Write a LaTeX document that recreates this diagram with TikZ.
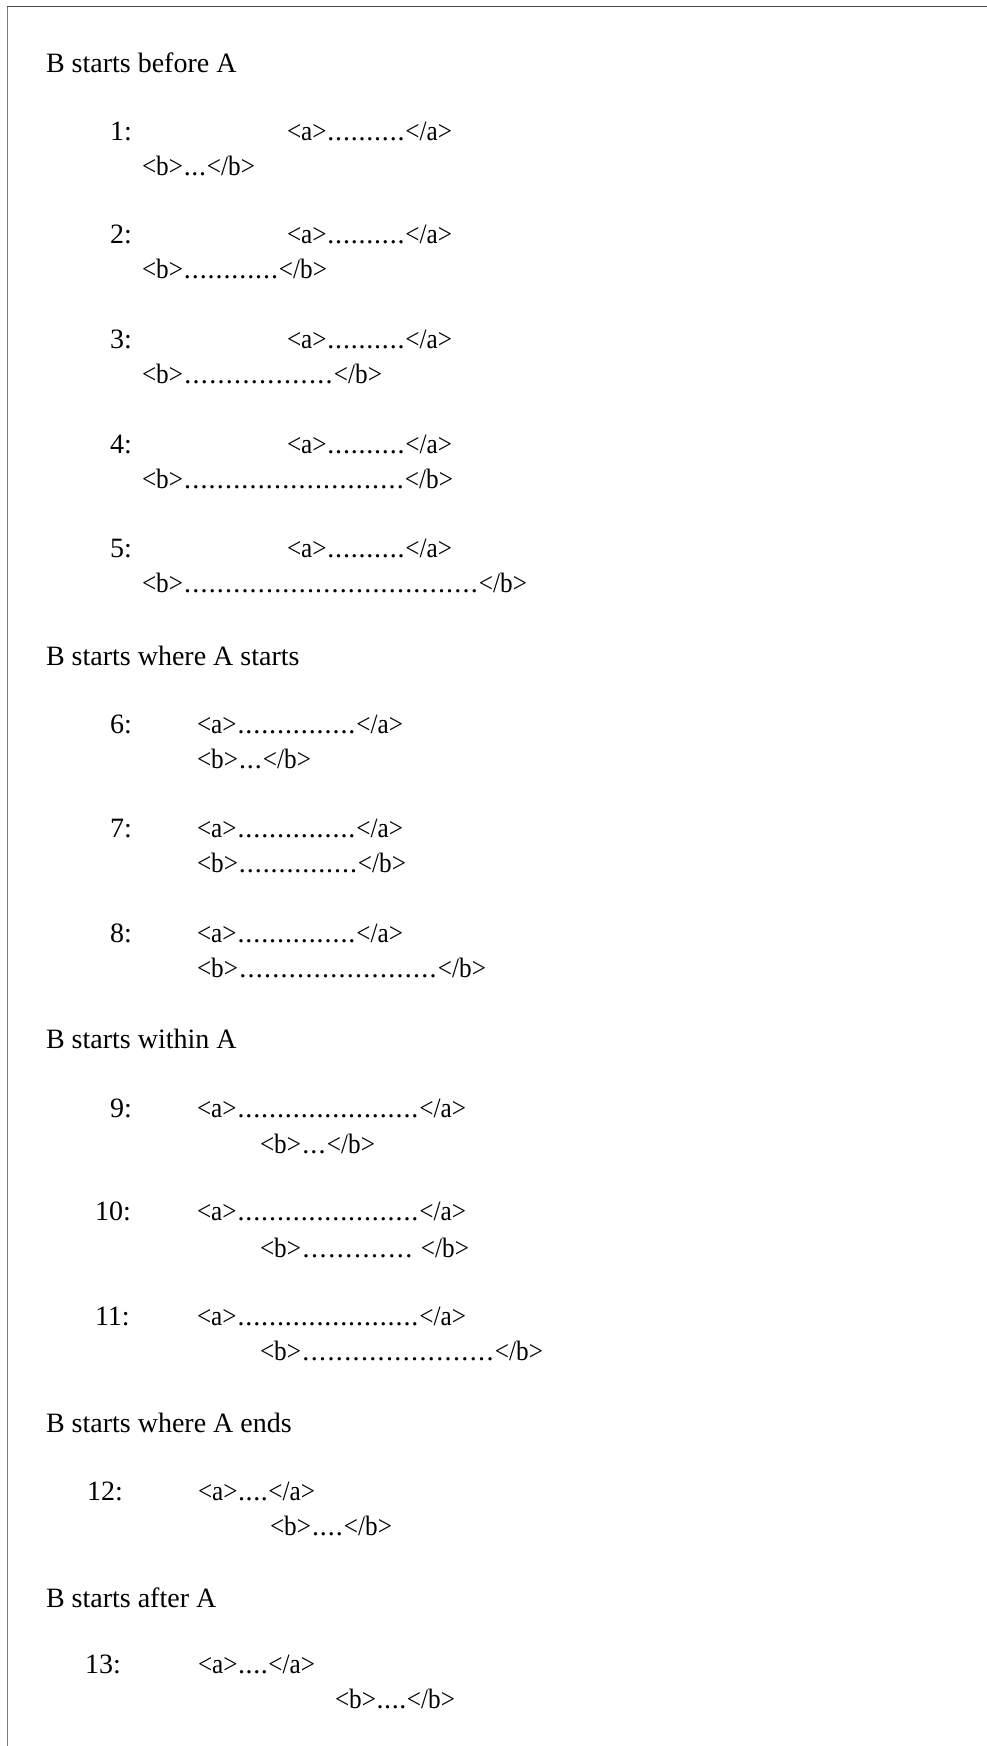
\documentclass[tikz,border=0pt]{standalone}
\usepackage{fontspec}
\setmainfont{Liberation Serif}
\usepackage{graphicx}
\newcount\dotcnt
\newcommand\spreaddots[1]{\dotcnt=#1\relax\loop\ifnum\dotcnt>0 \hfil.\advance\dotcnt by -1 \repeat\hfil}
\newcommand\tg[1]{\scalebox{0.9}[1]{#1}}
\newcommand\tagline[4]{\hbox to #4pt{\tg{<#1>}\spreaddots{#2}#3\tg{</#1>}}}
\tikzset{
  txt/.style={anchor=base west, inner sep=0pt, outer sep=0pt, font=\fontsize{28}{34}\selectfont},
  topborder/.style={draw=black!72, line width=1.6pt},
  leftborder/.style={draw=black!52, line width=1.6pt}
}
\begin{document}
\begin{tikzpicture}[x=1pt,y=-1pt]
\useasboundingbox (0,0) rectangle (987,1746);
\fill[white] (0,0) rectangle (987,1746);
\draw[leftborder] (7.5,1746) -- (7.5,6.5);
\draw[topborder] (6.7,6.5) -- (987,6.5);

% B starts before A
\node[txt] (h1) at (46,72) {B starts before A};
\node[txt] (n1) at (110,140) {1:};
\node[txt] (a1) at (287,140) {\tagline{a}{10}{}{165}};
\node[txt] (b1) at (142,175) {\tagline{b}{3}{}{113}};
\node[txt] (n2) at (110,243) {2:};
\node[txt] (a2) at (287,243) {\tagline{a}{10}{}{165}};
\node[txt] (b2) at (142,278) {\tagline{b}{12}{}{185}};
\node[txt] (n3) at (110,348) {3:};
\node[txt] (a3) at (287,348) {\tagline{a}{10}{}{165}};
\node[txt] (b3) at (142,383) {\tagline{b}{18}{}{240}};
\node[txt] (n4) at (110,453) {4:};
\node[txt] (a4) at (287,453) {\tagline{a}{10}{}{165}};
\node[txt] (b4) at (142,488) {\tagline{b}{27}{}{311}};
\node[txt] (n5) at (110,557) {5:};
\node[txt] (a5) at (287,557) {\tagline{a}{10}{}{165}};
\node[txt] (b5) at (142,592) {\tagline{b}{36}{}{385}};

% B starts where A starts
\node[txt] (h2) at (46,665) {B starts where A starts};
\node[txt] (n6) at (110,733) {6:};
\node[txt] (a6) at (197,733) {\tagline{a}{15}{}{206}};
\node[txt] (b6) at (197,768) {\tagline{b}{3}{}{114}};
\node[txt] (n7) at (110,837) {7:};
\node[txt] (a7) at (197,837) {\tagline{a}{15}{}{206}};
\node[txt] (b7) at (197,872) {\tagline{b}{15}{}{209}};
\node[txt] (n8) at (110,942) {8:};
\node[txt] (a8) at (197,942) {\tagline{a}{15}{}{206}};
\node[txt] (b8) at (197,977) {\tagline{b}{24}{}{289}};

% B starts within A
\node[txt] (h3) at (46,1048) {B starts within A};
\node[txt] (n9) at (110,1117) {9:};
\node[txt] (a9) at (197,1117) {\tagline{a}{23}{}{269}};
\node[txt] (b9) at (260,1153) {\tagline{b}{3}{}{115}};
\node[txt] (n10) at (95,1220) {10:};
\node[txt] (a10) at (197,1220) {\tagline{a}{23}{}{269}};
\node[txt] (b10) at (260,1257) {\tagline{b}{13}{\hskip 7pt}{209}};
\node[txt] (n11) at (95,1325) {11:};
\node[txt] (a11) at (197,1325) {\tagline{a}{23}{}{269}};
\node[txt] (b11) at (260,1360) {\tagline{b}{23}{}{283}};

% B starts where A ends
\node[txt] (h4) at (46,1432) {B starts where A ends};
\node[txt] (n12) at (87,1500) {12:};
\node[txt] (a12) at (198,1500) {\tagline{a}{4}{}{117}};
\node[txt] (b12) at (270,1535) {\tagline{b}{4}{}{122}};

% B starts after A
\node[txt] (h5) at (46,1607) {B starts after A};
\node[txt] (n13) at (85,1673) {13:};
\node[txt] (a13) at (198,1673) {\tagline{a}{4}{}{117}};
\node[txt] (b13) at (335,1708) {\tagline{b}{4}{}{120}};
\end{tikzpicture}
\end{document}
